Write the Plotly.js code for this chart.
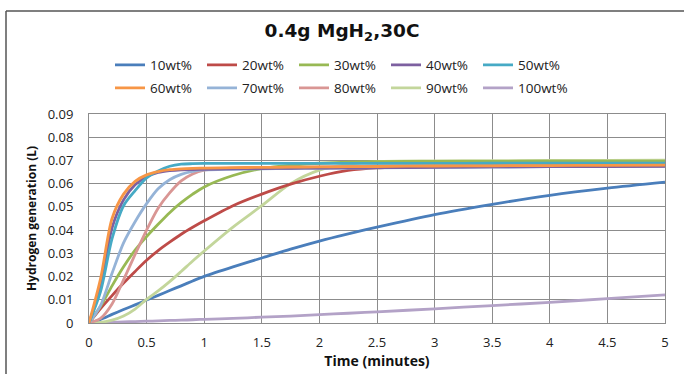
<!DOCTYPE html>
<html>
<head>
<meta charset="utf-8">
<script src="https://cdn.plot.ly/plotly-3.0.1.min.js"></script>
<style>html,body{margin:0;padding:0;background:#fff;}#chart{width:684px;height:374px;}</style>
</head>
<body>
<div id="chart"></div>
<script>
// Time (minutes)
const time = [0, 0.1, 0.2, 0.3, 0.4, 0.5, 0.6, 0.7, 0.8, 0.9, 1, 1.25, 1.5, 1.75, 2, 2.25, 2.5, 3, 3.5, 4, 4.5, 5];

const seriesNames = ["10wt%", "20wt%", "30wt%", "40wt%", "50wt%", "60wt%", "70wt%", "80wt%", "90wt%", "100wt%"];

// Hydrogen generation (L)
const wt10  = [0, 0.0015, 0.0037, 0.0058, 0.0078, 0.0099, 0.0119, 0.0140, 0.0160, 0.0181, 0.0201, 0.0242, 0.0280, 0.0318, 0.0353, 0.0384, 0.0413, 0.0467, 0.0511, 0.0550, 0.0581, 0.0607];
const wt20  = [0, 0.0062, 0.0118, 0.0172, 0.0222, 0.0270, 0.0312, 0.0348, 0.0382, 0.0412, 0.0440, 0.0505, 0.0555, 0.0598, 0.0632, 0.0657, 0.0668, 0.0674, 0.0676, 0.0678, 0.0679, 0.0680];
const wt30  = [0, 0.0072, 0.0160, 0.0242, 0.0314, 0.0372, 0.0425, 0.0475, 0.0518, 0.0555, 0.0586, 0.0635, 0.0665, 0.0680, 0.0688, 0.0693, 0.0695, 0.0696, 0.0696, 0.0697, 0.0697, 0.0697];
const wt40  = [0, 0.0160, 0.0410, 0.0530, 0.0595, 0.0630, 0.0648, 0.0656, 0.0660, 0.0661, 0.0662, 0.0664, 0.0665, 0.0666, 0.0667, 0.0668, 0.0669, 0.0670, 0.0672, 0.0673, 0.0674, 0.0675];
const wt50  = [0, 0.0135, 0.0363, 0.0505, 0.0570, 0.0625, 0.0655, 0.0675, 0.0684, 0.0686, 0.0687, 0.0687, 0.0687, 0.0687, 0.0687, 0.0687, 0.0687, 0.0687, 0.0688, 0.0688, 0.0688, 0.0688];
const wt60  = [0, 0.0190, 0.0450, 0.0555, 0.0610, 0.0638, 0.0652, 0.0660, 0.0664, 0.0666, 0.0667, 0.0669, 0.0670, 0.0671, 0.0672, 0.0673, 0.0674, 0.0676, 0.0677, 0.0678, 0.0679, 0.0680];
const wt70  = [0, 0.0075, 0.0214, 0.0345, 0.0436, 0.0514, 0.0578, 0.0617, 0.0640, 0.0653, 0.0659, 0.0662, 0.0664, 0.0665, 0.0666, 0.0667, 0.0668, 0.0670, 0.0671, 0.0673, 0.0674, 0.0675];
const wt80  = [0, 0.0020, 0.0082, 0.0186, 0.0295, 0.0400, 0.0494, 0.0560, 0.0612, 0.0642, 0.0658, 0.0667, 0.0669, 0.0671, 0.0672, 0.0674, 0.0676, 0.0678, 0.0680, 0.0682, 0.0684, 0.0685];
const wt90  = [0, 0.0003, 0.0012, 0.0030, 0.0060, 0.0102, 0.0138, 0.0178, 0.0222, 0.0267, 0.0310, 0.0413, 0.0505, 0.0600, 0.0658, 0.0683, 0.0695, 0.0698, 0.0699, 0.0700, 0.0700, 0.0701];
const wt100 = [0, 0.0001, 0.0003, 0.0005, 0.0006, 0.0008, 0.0009, 0.0011, 0.0012, 0.0014, 0.0016, 0.0020, 0.0025, 0.0030, 0.0036, 0.0042, 0.0048, 0.0061, 0.0075, 0.0089, 0.0105, 0.0121];

const seriesValues = [wt10, wt20, wt30, wt40, wt50, wt60, wt70, wt80, wt90, wt100];
const colors = ["#4A7EBB", "#BE4B48", "#98B954", "#7D60A0", "#46AAC5", "#F79646", "#95B3D7", "#D99694", "#C3D69B", "#B3A2C7"];

// Draw order: light/slow ones first so the fast dark curves sit on top like the reference
const drawOrder = [9, 0, 8, 1, 2, 7, 6, 3, 4, 5];

const traces = drawOrder.map(i => ({
  type: "scatter",
  mode: "lines",
  x: time,
  y: seriesValues[i],
  name: seriesNames[i],
  line: {color: colors[i], width: 2.8, shape: "spline", smoothing: 0.8},
  legend: i < 5 ? "legend" : "legend2",
  legendrank: i,
  hoverinfo: "x+y+name"
}));

const FONT = "Open Sans, Noto Sans, Arial, sans-serif";
const legendCommon = {
  orientation: "h",
  xref: "container", yref: "container",
  xanchor: "left", yanchor: "middle",
  x: 110 / 684,
  font: {family: FONT, size: 13.5, color: "#222"},
  bgcolor: "rgba(0,0,0,0)",
  entrywidth: 47,
  entrywidthmode: "pixels",
  itemwidth: 30,
  traceorder: "normal"
};

const layout = {
  width: 684, height: 374,
  margin: {l: 89, r: 19, t: 114, b: 51},
  paper_bgcolor: "#fff", plot_bgcolor: "#fff",
  font: {family: FONT, color: "#222"},
  title: {
    text: "<b>0.4g MgH<sub>2</sub>,30C</b>",
    font: {family: "DejaVu Sans, Open Sans, sans-serif", size: 18.5, color: "#111"},
    x: 0.5, xref: "container", xanchor: "center",
    y: 1 - 31 / 374, yref: "container", yanchor: "middle"
  },
  showlegend: true,
  legend: Object.assign({}, legendCommon, {y: 1 - 65 / 374}),
  legend2: Object.assign({}, legendCommon, {y: 1 - 88 / 374}),
  xaxis: {
    range: [0, 5], dtick: 0.5, tick0: 0,
    showgrid: true, gridcolor: "#8c8c8c", gridwidth: 1,
    showline: true, linecolor: "#8c8c8c", linewidth: 1, mirror: true,
    zeroline: false, ticks: "", ticklabelstandoff: 7,
    tickfont: {family: FONT, size: 13, color: "#222"},
    title: {text: "<b>Time (minutes)</b>", font: {family: FONT, size: 14, color: "#111"}, standoff: 5}
  },
  yaxis: {
    range: [0, 0.09], dtick: 0.01, tick0: 0,
    showgrid: true, gridcolor: "#8c8c8c", gridwidth: 1,
    showline: true, linecolor: "#8c8c8c", linewidth: 1, mirror: true,
    zeroline: false, ticks: "", ticklabelstandoff: 12,
    tickfont: {family: FONT, size: 13, color: "#222"},
    title: {text: "<b>Hydrogen generation (L)</b>", font: {family: FONT, size: 12, color: "#111"}, standoff: 8}
  },
  shapes: [
    {type: "line", xref: "paper", yref: "paper", x0: (6 - 89) / 576, x1: (684 - 89) / 576, y0: (323 - 11) / 209, y1: (323 - 11) / 209, line: {color: "#555", width: 1.5}},
    {type: "line", xref: "paper", yref: "paper", x0: (6 - 89) / 576, x1: (6 - 89) / 576, y0: (323 - 11) / 209, y1: (323 - 380) / 209, line: {color: "#555", width: 1.5}}
  ]
};

Plotly.newPlot("chart", traces, layout, {displayModeBar: false, staticPlot: true});
</script>
</body>
</html>
